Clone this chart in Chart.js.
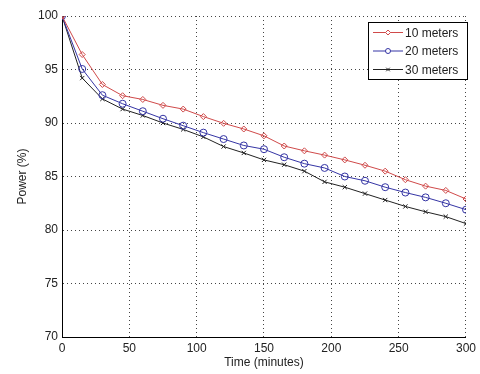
<!DOCTYPE html>
<html>
<head>
<meta charset="utf-8">
<script src="https://cdn.jsdelivr.net/npm/chart.js@4/dist/chart.umd.min.js"></script>
<style>
  html, body { margin: 0; padding: 0; background: #fff; }
  #wrap { width: 480px; height: 374px; }
</style>
</head>
<body>
<div id="wrap"><canvas id="powerChart" width="480" height="374"></canvas></div>
<script>
// time in minutes
const times = [0, 15, 30, 45, 60, 75, 90, 105, 120, 135, 150, 165, 180, 195, 210, 225, 240, 255, 270, 285, 300];
const labels = ['10 meters', '20 meters', '30 meters'];
const power10 = [100, 96.4, 93.6, 92.55, 92.2, 91.65, 91.3, 90.6, 89.97, 89.44, 88.8, 87.85, 87.4, 87.0, 86.55, 86.05, 85.5, 84.7, 84.1, 83.7, 82.9];
const power20 = [100, 95.05, 92.6, 91.8, 91.1, 90.4, 89.75, 89.1, 88.5, 87.9, 87.55, 86.8, 86.2, 85.8, 85.0, 84.6, 84.0, 83.5, 83.05, 82.5, 81.9];
const power30 = [100, 94.2, 92.25, 91.3, 90.7, 90.0, 89.4, 88.7, 87.8, 87.2, 86.55, 86.1, 85.5, 84.5, 84.0, 83.4, 82.8, 82.2, 81.7, 81.25, 80.6];
const xTicks = [0, 50, 100, 150, 200, 250, 300];
const yTicks = [70, 75, 80, 85, 90, 95, 100];

const font = { family: '"Liberation Sans", Arial, sans-serif', size: 12 };

function toPoints(vals) {
  return vals.map((v, i) => ({ x: times[i], y: v }));
}

function makeSet(label, vals, color, style, radius) {
  return {
    label: label,
    data: toPoints(vals),
    borderColor: color,
    borderWidth: 1,
    pointStyle: style,
    pointRadius: radius,
    pointBorderColor: color,
    pointBackgroundColor: 'rgba(0,0,0,0)',
    pointBorderWidth: 1,
    tension: 0
  };
}

// legend box drawn inside the plot, top right
const boxLegend = {
  id: 'boxLegend',
  afterDatasetsDraw(chart) {
    const ctx = chart.ctx;
    const left = 368, top = 22, w = 99, h = 57;
    ctx.save();
    ctx.fillStyle = '#fff';
    ctx.fillRect(left, top, w, h);
    ctx.strokeStyle = '#000';
    ctx.lineWidth = 1;
    ctx.strokeRect(left + 0.5, top + 0.5, w, h);
    ctx.font = '12px ' + font.family;
    ctx.textBaseline = 'middle';
    chart.data.datasets.forEach((ds, i) => {
      const y = top + 10.5 + i * 18.5;
      ctx.strokeStyle = ds.borderColor;
      ctx.beginPath();
      ctx.moveTo(left + 5, y);
      ctx.lineTo(left + 35, y);
      ctx.stroke();
      ctx.fillStyle = '#fff';
      Chart.helpers.drawPoint(ctx, {
        pointStyle: ds.pointStyle, radius: 2.5, borderWidth: 1, rotation: 0
      }, left + 20, y);
      ctx.fillStyle = '#222';
      ctx.fillText(ds.label, left + 37, y + 1);
    });
    ctx.restore();
  }
};

const bgPlugin = {
  id: 'bg',
  beforeDraw(chart) {
    const ctx = chart.ctx;
    ctx.save();
    ctx.fillStyle = '#fff';
    ctx.fillRect(0, 0, chart.width, chart.height);
    ctx.restore();
  }
};

const ctx = document.getElementById('powerChart').getContext('2d');
const powerChart = new Chart(ctx, {
  type: 'line',
  data: {
    datasets: [
      makeSet(labels[0], power10, '#d04a4a', 'rectRot', 3),
      makeSet(labels[1], power20, '#3535a5', 'circle', 3.5),
      makeSet(labels[2], power30, '#222', 'crossRot', 3)
    ]
  },
  options: {
    responsive: false,
    animation: false,
    layout: { padding: { top: 16, right: 12, left: 0, bottom: 0 } },
    plugins: {
      legend: { display: false },
      tooltip: { enabled: false }
    },
    scales: {
      x: {
        type: 'linear',
        min: 0,
        max: 300,
        afterBuildTicks: s => { s.ticks = xTicks.map(v => ({ value: v })); },
        afterFit: s => { s.height = 37; },
        grid: { color: '#444', lineWidth: 1, drawTicks: false },
        border: { display: true, color: '#000', width: 1, dash: [1, 3] },
        ticks: { font: font, color: '#222', padding: 4, maxRotation: 0 },
        title: { display: true, text: 'Time (minutes)', font: font, color: '#222', padding: { top: 0 } }
      },
      y: {
        min: 70,
        max: 100,
        afterBuildTicks: s => { s.ticks = yTicks.map(v => ({ value: v })); },
        afterFit: s => { s.width = 62; },
        grid: { color: '#444', lineWidth: 1, drawTicks: false },
        border: { display: true, color: '#000', width: 1, dash: [1, 3] },
        ticks: { font: font, color: '#222', padding: 4 },
        title: { display: true, text: 'Power (%)', font: font, color: '#222', padding: { top: 15, bottom: 0 } }
      }
    }
  },
  plugins: [bgPlugin, boxLegend]
});
</script>
</body>
</html>
